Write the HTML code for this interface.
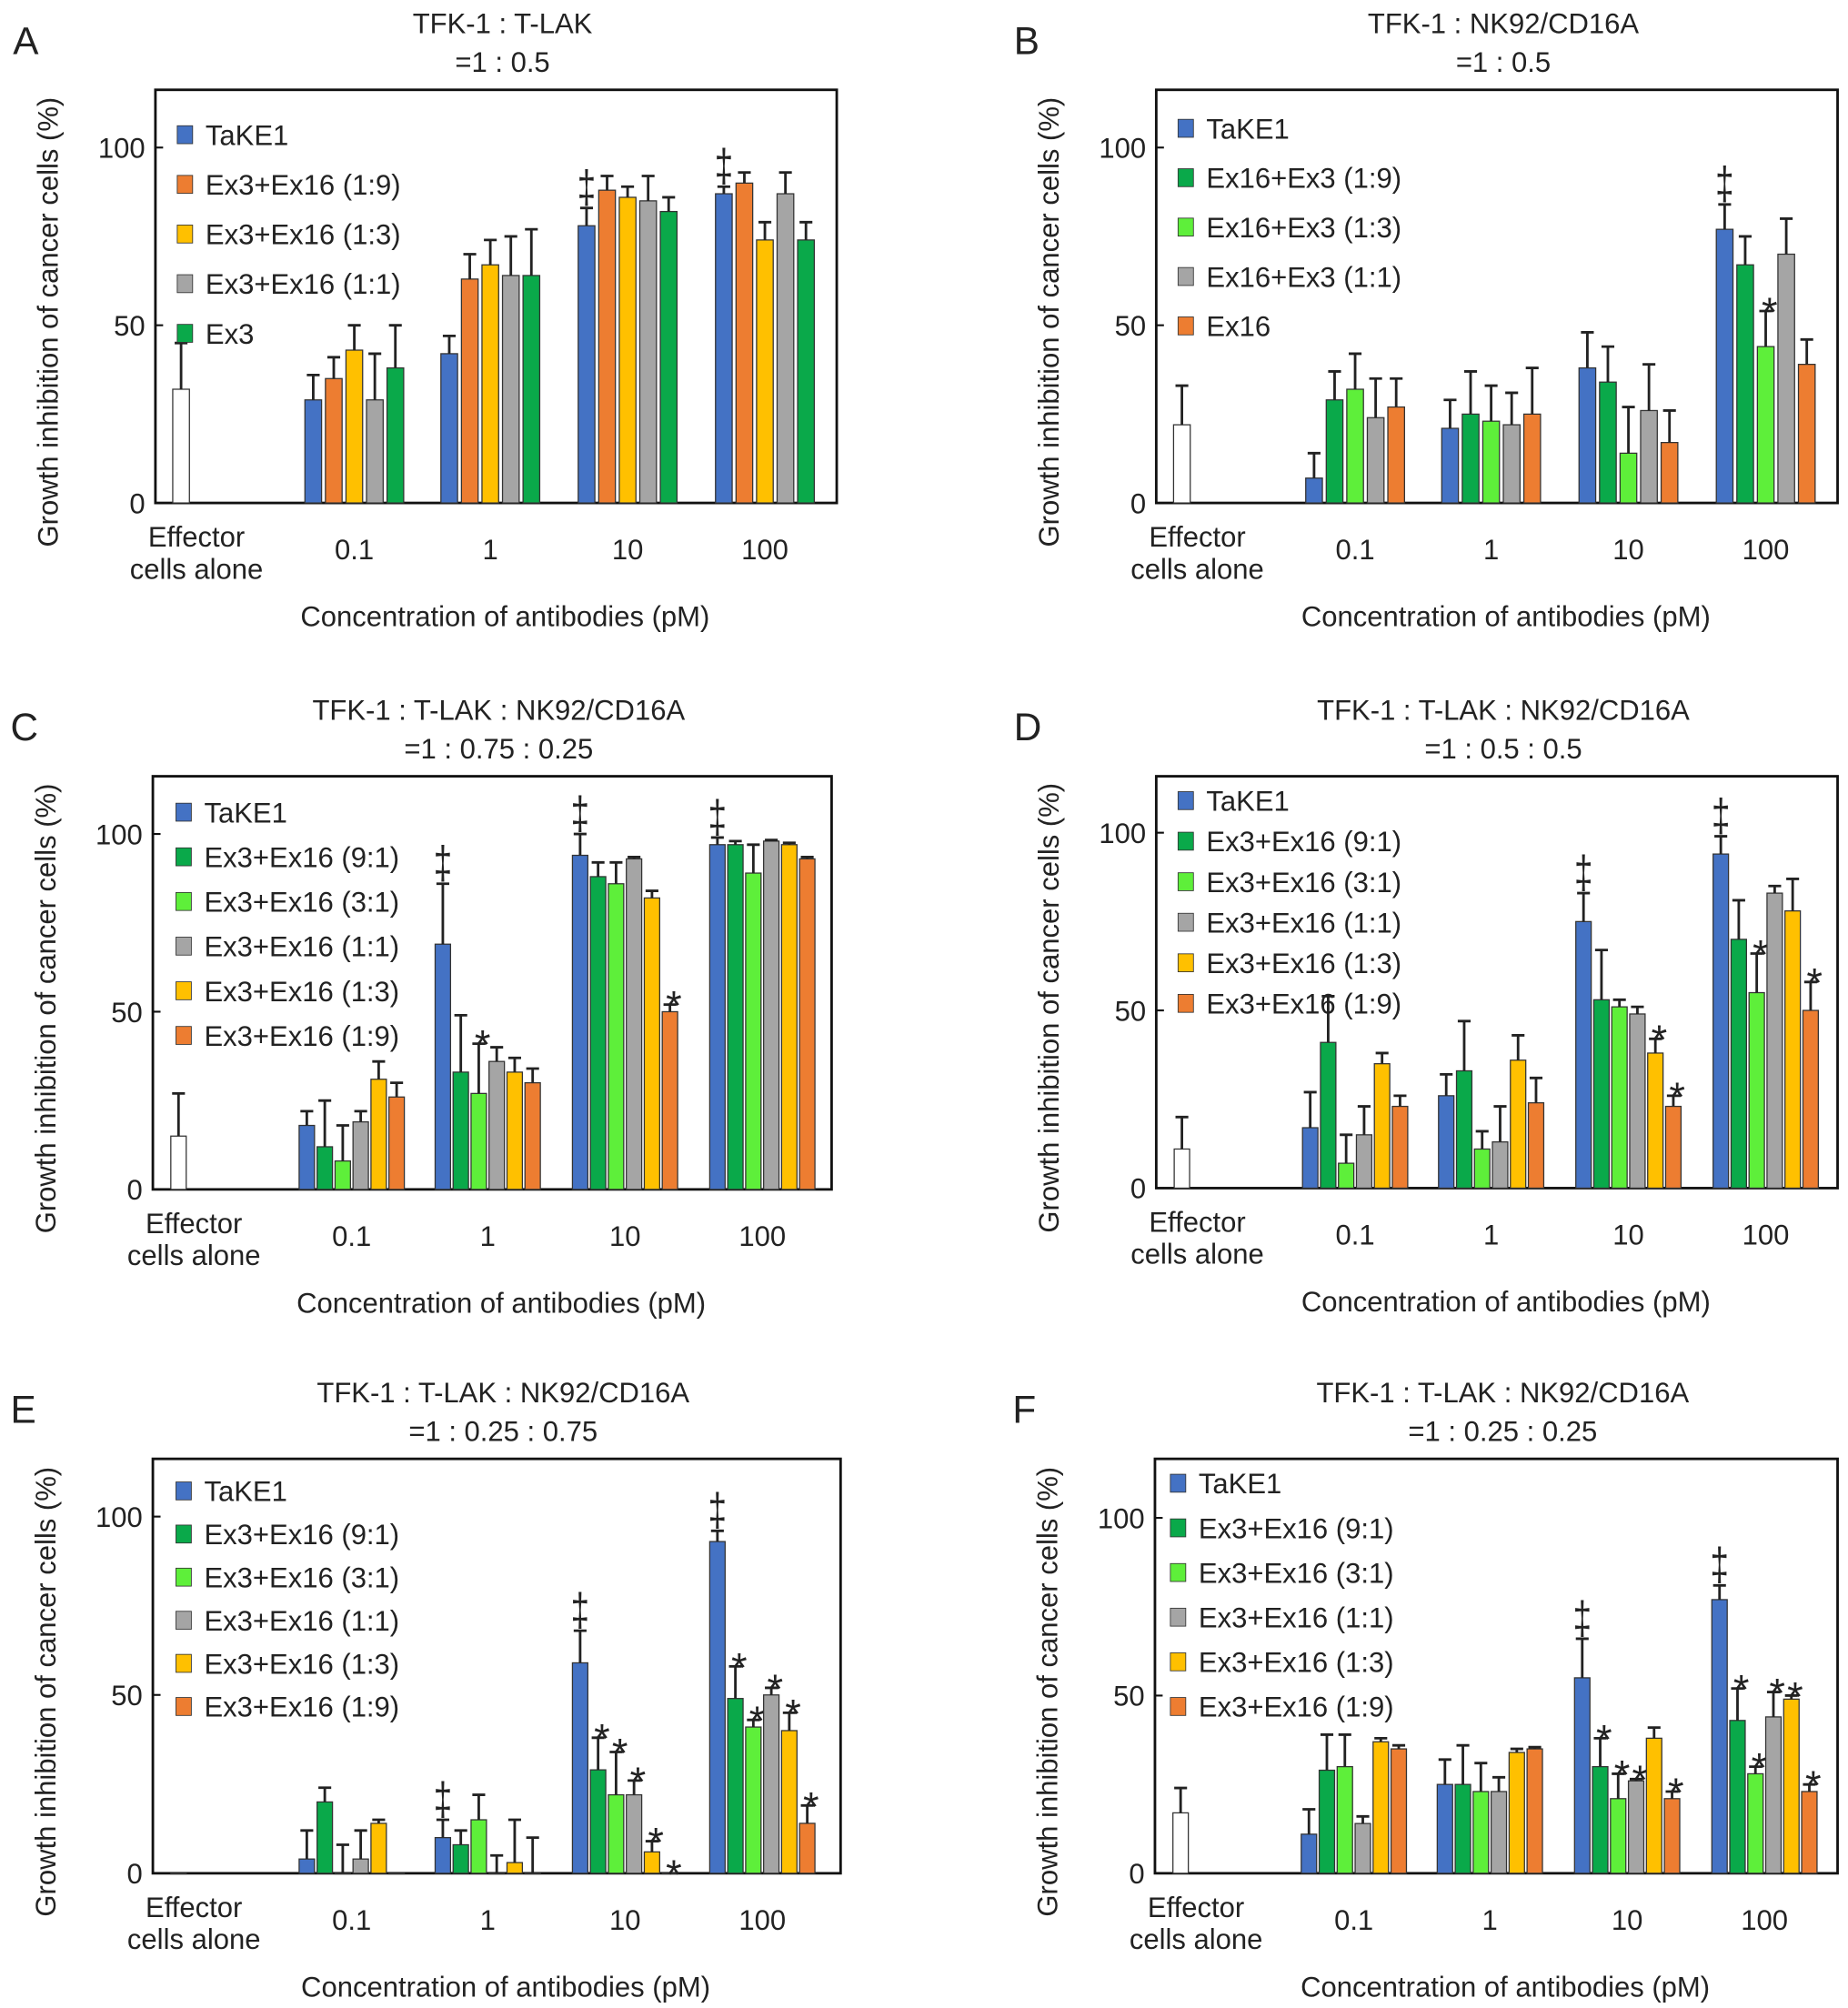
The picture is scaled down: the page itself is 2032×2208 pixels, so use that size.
<!DOCTYPE html>
<html><head><meta charset="utf-8"><style>
html,body{margin:0;padding:0;background:#fff}
svg{display:block}
text{font-family:"Liberation Sans",sans-serif;fill:#222}
</style></head><body>
<svg id="fig" width="2032" height="2208" viewBox="0 0 1440 1565" xmlns="http://www.w3.org/2000/svg"></svg>
<script>
// ---- data ----
const groups = ["0.1","1","10","100"];
const yTicks = [0,50,100];
const BLUE="#4472c4",ORANGE="#ed7d31",YELLOW="#ffc000",GRAY="#a5a5a5",GREEN="#0aa94a",LGREEN="#5eef3a";

const seriesA = ["TaKE1","Ex3+Ex16 (1:9)","Ex3+Ex16 (1:3)","Ex3+Ex16 (1:1)","Ex3"];
const effA = [32,13];
const valsA = [[29,35,43,29,38],[42,63,67,64,64],[78,88,86,85,82],[87,90,74,87,74]];
const errsA = [[7,6,7,13,12],[5,7,7,11,13],[5,4,3,7,4],[2,3,5,6,5]];
const marksA = [["","","","",""],["","","","",""],["‡","","","",""],["‡","","","",""]];

const seriesB = ["TaKE1","Ex16+Ex3 (1:9)","Ex16+Ex3 (1:3)","Ex16+Ex3 (1:1)","Ex16"];
const effB = [22,11];
const valsB = [[7,29,32,24,27],[21,25,23,22,25],[38,34,14,26,17],[77,67,44,70,39]];
const errsB = [[7,8,10,11,8],[8,12,10,9,13],[10,10,13,13,9],[7,8,10,10,7]];
const marksB = [["","","","",""],["","","","",""],["","","","",""],["‡","","*","",""]];

const series6 = ["TaKE1","Ex3+Ex16 (9:1)","Ex3+Ex16 (3:1)","Ex3+Ex16 (1:1)","Ex3+Ex16 (1:3)","Ex3+Ex16 (1:9)"];
const effC = [15,12];
const valsC = [[18,12,8,19,31,26],[69,33,27,36,33,30],[94,88,86,93,82,50],[97,97,89,98,97,93]];
const errsC = [[4,13,10,3,5,4],[17,16,14,4,4,4],[6,4,6,0.5,2,2],[2,1,8,0.3,0.5,0.5]];
const marksC = [["","","","","",""],["‡","","*","","",""],["‡","","","","","*"],["‡","","","","",""]];

const effD = [11,9];
const valsD = [[17,41,7,15,35,23],[26,33,11,13,36,24],[75,53,51,49,38,23],[94,70,55,83,78,50]];
const errsD = [[10,13,8,8,3,3],[6,14,5,10,7,7],[8,14,2,2,4,3],[5,11,11,2,9,8]];
const marksD = [["","","","","",""],["","","","","",""],["‡","","","","*","*"],["‡","","*","","","*"]];

const effE = [0,0];
const valsE = [[4,20,0,4,14,0],[10,8,15,0,3,0],[59,29,22,22,6,0],[93,49,41,50,40,14]];
const errsE = [[8,4,8,8,1,0],[5,4,7,5,12,10],[9,9,12,4,3,0],[3,9,2,2,5,5]];
const marksE = [["","","","","",""],["‡","","","","",""],["‡","*","*","*","*","*"],["‡","*","*","*","*","*"]];

const effF = [17,7];
const valsF = [[11,29,30,14,37,35],[25,25,23,23,34,35],[55,30,21,26,38,21],[77,43,28,44,49,23]];
const errsF = [[7,10,9,2,1,1],[7,11,8,4,1,0.5],[11,8,7,0.5,3,2],[4,9,2,7,1,2]];
const marksF = [["","","","","",""],["","","","","",""],["‡","*","*","*","","*"],["‡","*","*","*","*","*"]];

// ---- drawing ----
const NS="http://www.w3.org/2000/svg";
const svg=document.getElementById('fig');
function mk(tag,attrs,parent){const e=document.createElementNS(NS,tag);for(const k in attrs)e.setAttribute(k,attrs[k]);(parent||svg).appendChild(e);return e;}
function txt(s,x,y,size,anchor,parent){const t=mk('text',{x:x,y:y,'font-size':size,'text-anchor':anchor||'middle'},parent);t.textContent=s;return t;}

function panel(p){
  const g=mk('g',{});
  
  
  const L=p.x,T=p.y,W=p.w,B=p.y0;
  const yS=v=>p.y0-(p.y0-p.y100)*v/100;
  const lt=txt(p.letter,L-111,T-28,30,'start',g);
  
  const t1=txt(p.t1,L+W/2+5,T-44,22,'middle',g);
  
  const t2=txt(p.t2,L+W/2+5,T-14,22,'middle',g);
  
  const box=mk('rect',{x:L,y:T,width:W,height:B-T,fill:'none',stroke:'#111','stroke-width':2},g);
  
  yTicks.forEach(v=>{
    const yy=yS(v);
    const tl=mk('line',{x1:L,x2:L+6,y1:yy,y2:yy,stroke:'#111','stroke-width':1.5},g);
    
    const lb=txt(String(v),L-8,yy+8,22,'end',g);
    
  });
  const yt=txt('Growth inhibition of cancer cells (%)',0,0,22,'middle',g);
  yt.setAttribute('transform',`translate(${L-76},${(T+B)/2+20}) rotate(-90)`);
  
  const xt=txt('Concentration of antibodies (pM)',L+W/2+7,B+96,22,'middle',g);
  
  const e1=txt('Effector',L+32,B+34,22,'middle',g);
  
  const e2=txt('cells alone',L+32,B+59,22,'middle',g);
  
  const centers=[155,261,368,475].map(c=>L+c);
  const n=p.series.length, pitch=n===5?16:14, bw=n===5?13:12;
  function bar(x,v,e,color,mark,name){
    const y=yS(v);
    const r=mk('rect',{x:x-bw/2,y:y,width:bw,height:Math.max(B-y,0.5),fill:color,stroke:'#333','stroke-width':0.9},g);
    
    if(e>0){
      const ye=yS(v+e);
      const el=mk('path',{d:`M${x},${y}V${ye}M${x-5},${ye}H${x+5}`,stroke:'#222','stroke-width':2,fill:'none'},g);
      
    }
    if(mark){
      const top=yS(v+e);
      if(mark==='‡'){
        const m=txt('‡',x,top-4,26,'middle',g);
        
        m.setAttribute('transform',`scale(1,1.4) translate(0,${-(top-4)*0.4/1.4})`);
      } else {
        const m=txt('*',x+3,top+12,32,'middle',g);
        
      }
    }
  }
  bar(L+20,p.eff[0],p.eff[1],'#fff','', 'bar-effector-alone');
  groups.forEach((gl,gi)=>{
    const c=centers[gi];
    const lb=txt(gl,c,B+44,22,'middle',g);
    
    for(let s=0;s<n;s++){
      const x=c+(s-(n-1)/2)*pitch;
      bar(x,p.vals[gi][s],p.errs[gi][s],p.colors[s],p.marks[gi][s],'bar-'+gl+'-s'+(s+1));
    }
  });
  p.series.forEach((s,i)=>{
    const ly=p.legY+i*p.legGap;
    const sq=mk('rect',{x:p.legX,y:ly-7,width:12,height:14,fill:p.colors[i],stroke:'#333','stroke-width':0.6},g);
    
    const lt2=txt(s,p.legX+22,ly+8,22,'start',g);
    
  });
}

const C6A=[BLUE,GREEN,LGREEN,GRAY,YELLOW,ORANGE];
panel({letter:'A',t1:'TFK-1 : T-LAK',t2:'=1 : 0.5',x:121,y:70,w:531,y0:392,y100:115,series:seriesA,colors:[BLUE,ORANGE,YELLOW,GRAY,GREEN],eff:effA,vals:valsA,errs:errsA,marks:marksA,legX:138,legY:105,legGap:38.7});
panel({letter:'B',t1:'TFK-1 : NK92/CD16A',t2:'=1 : 0.5',x:901,y:70,w:531,y0:392,y100:115,series:seriesB,colors:[BLUE,GREEN,LGREEN,GRAY,ORANGE],eff:effB,vals:valsB,errs:errsB,marks:marksB,legX:918,legY:100,legGap:38.5});
panel({letter:'C',t1:'TFK-1 : T-LAK : NK92/CD16A',t2:'=1 : 0.75 : 0.25',x:119,y:605,w:529,y0:927,y100:650,series:series6,colors:C6A,eff:effC,vals:valsC,errs:errsC,marks:marksC,legX:137,legY:633,legGap:34.8});
panel({letter:'D',t1:'TFK-1 : T-LAK : NK92/CD16A',t2:'=1 : 0.5 : 0.5',x:901,y:605,w:531,y0:926,y100:649,series:series6,colors:C6A,eff:effD,vals:valsD,errs:errsD,marks:marksD,legX:918,legY:624,legGap:31.6});
panel({letter:'E',t1:'TFK-1 : T-LAK : NK92/CD16A',t2:'=1 : 0.25 : 0.75',x:119,y:1137,w:536,y0:1460,y100:1182,series:series6,colors:C6A,eff:effE,vals:valsE,errs:errsE,marks:marksE,legX:137,legY:1162,legGap:33.6});
panel({letter:'F',t1:'TFK-1 : T-LAK : NK92/CD16A',t2:'=1 : 0.25 : 0.25',x:900,y:1137,w:532,y0:1460,y100:1183,series:series6,colors:C6A,eff:effF,vals:valsF,errs:errsF,marks:marksF,legX:912,legY:1156,legGap:34.8});
</script>
</body></html>
